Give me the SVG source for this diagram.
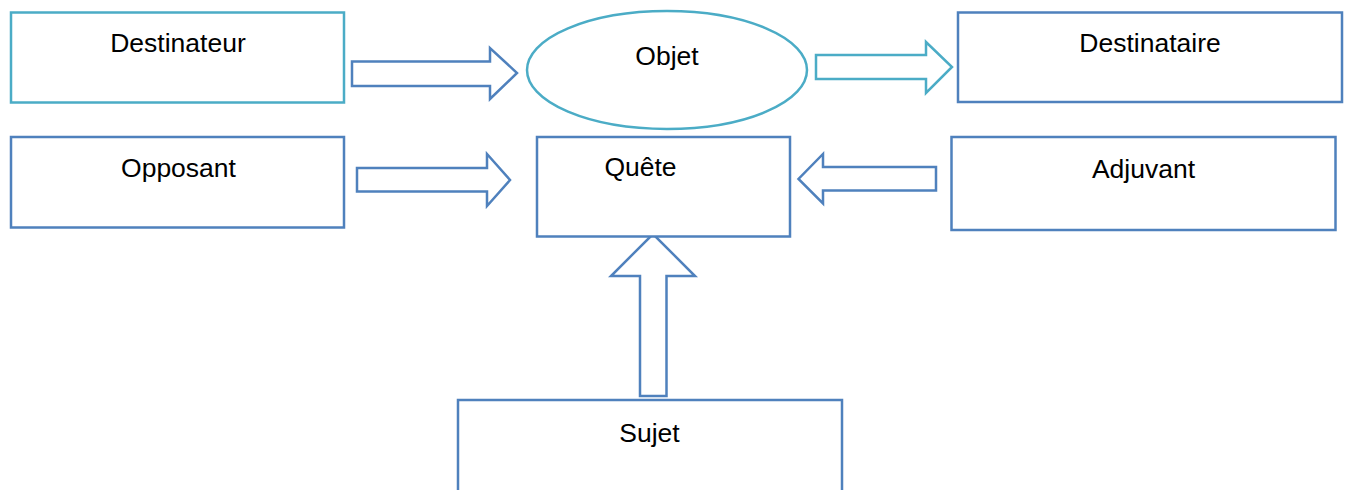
<svg xmlns="http://www.w3.org/2000/svg" width="1349" height="490" viewBox="0 0 1349 490">
<style>
.t{font-family:"Liberation Sans",Arial,sans-serif;font-size:26.5px;fill:#000;text-anchor:middle}
.blue{fill:#fff;stroke:#4F81BD;stroke-width:2.5}
.teal{fill:#fff;stroke:#4BACC6;stroke-width:2.5}
</style>
<rect width="1349" height="490" fill="#fff"/>
<g id="connectors">
<polygon class="blue" points="352,61.5 490,61.5 490,48 517,73 490,99 490,86 352,86"/>
<polygon class="teal" points="816,55 926,55 926,42 952,67 926,93 926,79 816,79"/>
<polygon class="blue" points="357,168 487,168 487,154 510,180 487,206 487,191.5 357,191.5"/>
<polygon class="blue" points="936,167 823,167 823,154 798.5,179 823,203.5 823,190.5 936,190.5"/>
<polygon class="blue" points="640,396 640,276 611,276 653,234 695,276 666.5,276 666.5,396"/>
</g>
<g id="destinateur"><rect class="teal" x="11" y="12.5" width="333" height="90"/><text class="t" x="178" y="52">Destinateur</text></g>
<g id="objet"><ellipse class="teal" cx="667" cy="70" rx="140" ry="59"/><text class="t" x="667" y="65">Objet</text></g>
<g id="destinataire"><rect class="blue" x="958" y="12.5" width="384" height="89.5"/><text class="t" x="1150" y="52">Destinataire</text></g>
<g id="opposant"><rect class="blue" x="11" y="137" width="333" height="90.5"/><text class="t" x="178.5" y="177">Opposant</text></g>
<g id="quete"><rect class="blue" x="537" y="137" width="253" height="99.5"/><text class="t" x="640.5" y="176">Quête</text></g>
<g id="adjuvant"><rect class="blue" x="951.5" y="137" width="384" height="93"/><text class="t" x="1143.5" y="178">Adjuvant</text></g>
<g id="sujet"><rect class="blue" x="458" y="400" width="384" height="110"/><text class="t" x="649.5" y="442">Sujet</text></g>
</svg>
